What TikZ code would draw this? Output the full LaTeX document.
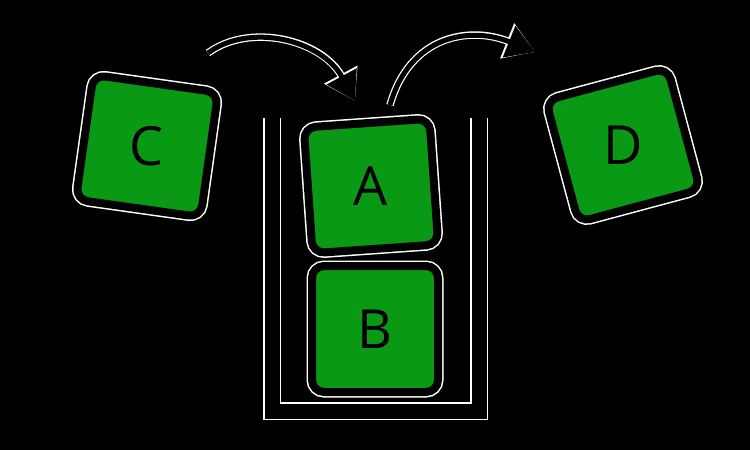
\documentclass[tikz,border=0pt]{standalone}
\usepackage{fontspec}
\setmainfont{Open Sans}
\usetikzlibrary{positioning}
\usetikzlibrary{arrows.meta}
\definecolor{boxgreen}{RGB}{9,153,20}
\tikzset{block/.style={draw=black, fill=boxgreen, line width=8pt, rounded corners=12pt, minimum size=126pt, inner sep=0pt, preaction={draw=white, line width=11pt}}}
\tikzset{letter/.style={font=\fontsize{54}{60}\selectfont, text=black, inner sep=0pt}}
\tikzset{wall/.style={draw=black, line width=15pt, line cap=rect, line join=miter, preaction={draw=white, line width=18pt}}}
\tikzset{flow/.style={draw=black, line width=5pt, -{Triangle[length=28pt,width=33pt]}, preaction={draw=white, line width=7.5pt, -{Triangle[length=30pt,width=36pt]}}}}

\begin{document}
\begin{tikzpicture}[x=1pt,y=-1pt]
\useasboundingbox (0,0) rectangle (750,450);
\fill[black] (0,0) rectangle (750,450);
% the stack
\coordinate (wl) at (272,118);
\coordinate (wr) at (479,118);
\draw[wall] (wl) -- (272,411) -- (479,411) -- (wr);
\node[block, rotate=-8] (C) at (147,146) {};
\node[letter] (C-txt) at (C) {C};
\node[block] (B) at (375,329) {};
\node[letter] (B-txt) at (B) {B};
\node[block, rotate=4] (A) at (371,186) {};
\node[letter] (A-txt) at (A) {A};
\node[block, rotate=15] (D) at (623,145) {};
\node[letter] (D-txt) at (D) {D};
% push and pop
\coordinate (push) at (208,53);
\coordinate (pushend) at (355,101);
\coordinate (pop) at (390,105);
\coordinate (popend) at (535,52);
\draw[flow] (push) .. controls (250,22) and (322,40) .. (pushend);
\draw[flow] (pop) .. controls (410,35) and (470,26) .. (popend);
\end{tikzpicture}
\end{document}
